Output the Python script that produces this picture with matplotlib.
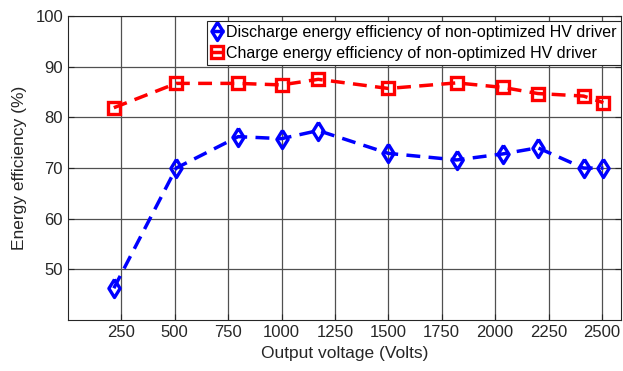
import matplotlib
matplotlib.use("Agg")
import matplotlib.pyplot as plt

plt.rcParams['font.family'] = ['Liberation Sans', 'DejaVu Sans']

# ------------------------------------------------
# DATA
# ------------------------------------------------
voltage = [215, 507, 797, 1000, 1172, 1500, 1820, 2037, 2200, 2414, 2507]
discharge_eff = [46.3, 70.0, 76.2, 75.8, 77.4, 72.9, 71.6, 72.8, 74.0, 70.0, 70.0]
charge_eff = [81.9, 86.7, 86.7, 86.4, 87.5, 85.7, 86.8, 85.9, 84.7, 84.2, 82.9]

x_ticks = [250, 500, 750, 1000, 1250, 1500, 1750, 2000, 2250, 2500]
y_ticks = [50, 60, 70, 80, 90, 100]

label_discharge = "Discharge energy efficiency of non-optimized HV driver"
label_charge = "Charge energy efficiency of non-optimized HV driver"

# MATLAB-like diamond marker shape (a bit wider than matplotlib's 'd')
diamond = [(0, 1), (0.62, 0), (0, -1), (-0.62, 0), (0, 1)]

# ------------------------------------------------
# PLOT
# ------------------------------------------------
fig = plt.figure(figsize=(6.23, 3.71), dpi=100)
ax = fig.add_axes([0.109, 0.137, 0.888, 0.820])

ax.plot(voltage, discharge_eff, linestyle="--", dashes=(4, 2.4), color="#0000ff",
        linewidth=2.5, marker=diamond, markersize=13, markerfacecolor="none",
        markeredgewidth=2.4, label=label_discharge)
ax.plot(voltage, charge_eff, linestyle="--", dashes=(4, 2.4), color="#ff0000",
        linewidth=2.5, marker="s", markersize=9.3, markerfacecolor="none",
        markeredgewidth=2.4, label=label_charge)

ax.set_xlim(0, 2590)
ax.set_ylim(40, 100)
ax.set_xticks(x_ticks)
ax.set_yticks(y_ticks)

ax.grid(True, color="#505050", linewidth=0.9)
ax.set_axisbelow(True)
ax.tick_params(direction="in", length=4, labelsize=12, colors="#262626",
               right=True, top=False)
for sp in ax.spines.values():
    sp.set_color("#262626")
    sp.set_linewidth(0.8)

ax.set_xlabel("Output voltage (Volts)", fontsize=12.5, color="#262626", labelpad=4)
ax.set_ylabel("Energy efficiency (%)", fontsize=12.5, color="#262626", labelpad=6)

leg = ax.legend(loc="upper right", bbox_to_anchor=(1.0, 0.985), borderaxespad=0,
                fontsize=11.5, handlelength=0.8, handletextpad=0.15,
                labelspacing=0.35, borderpad=0.28, fancybox=False,
                framealpha=1, edgecolor="#262626")
leg.get_frame().set_linewidth(0.8)

plt.savefig("out.png", dpi=100)
plt.close()
